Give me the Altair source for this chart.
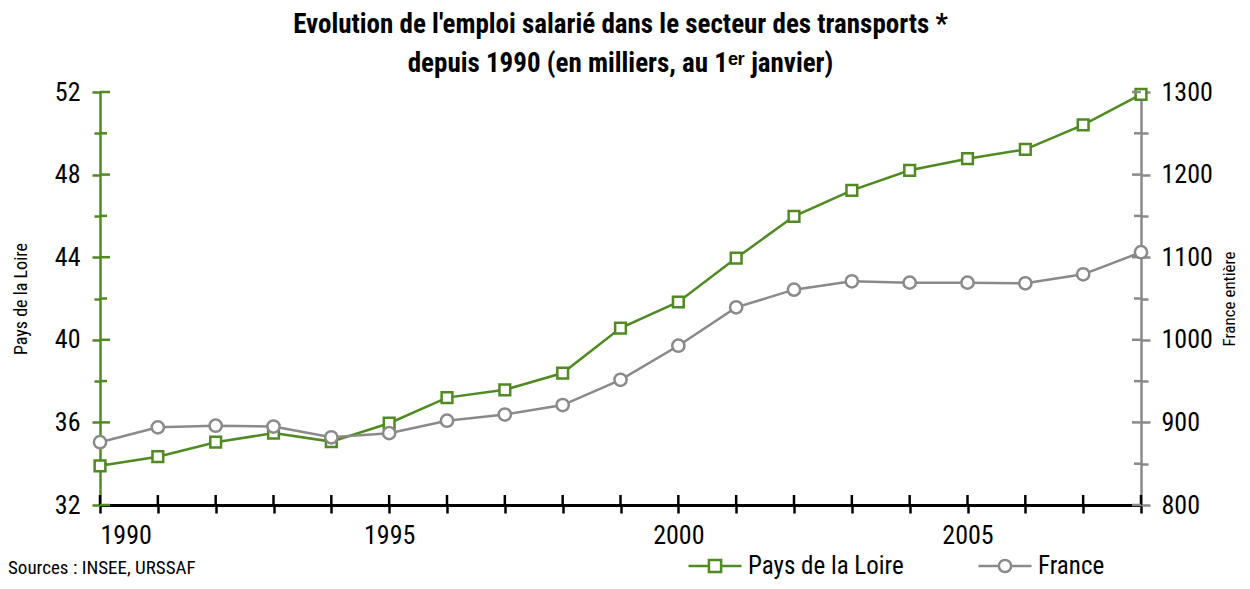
import altair as alt
import pandas as pd

years = list(range(1990, 2009))
pdl = [33.9, 34.34, 35.04, 35.48, 35.07, 35.96, 37.2, 37.58, 38.39, 40.57,
       41.83, 43.96, 45.98, 47.24, 48.21, 48.77, 49.22, 50.41, 51.88]
france = [876, 894, 896, 895, 882, 887, 902, 909.5, 921, 951.6,
          992.8, 1039.3, 1060.7, 1070.8, 1069.2, 1069.2, 1068.4, 1079.3, 1106]
series = ["Pays de la Loire", "France"]
pdl_ticks_major = [32, 36, 40, 44, 48, 52]
pdl_ticks_minor = [34, 38, 42, 46, 50]
fr_ticks_major = [800, 900, 1000, 1100, 1200, 1300]
fr_ticks_minor = [850, 950, 1050, 1150, 1250]

GREEN = "#4F8A22"
GRAY = "#8A8A8A"
BG = "#A9FFA9"
FONT = "Roboto Condensed, Liberation Sans Narrow, Roboto, sans-serif"

df = pd.DataFrame(
    [{"year": y, "serie": series[0], "value": v} for y, v in zip(years, pdl)]
    + [{"year": y, "serie": series[1], "value": v} for y, v in zip(years, france)]
)

W, H = 1041, 413

x_enc = alt.X(
    "year:Q",
    scale=alt.Scale(domain=[1990, 2008], nice=False, zero=False),
    axis=alt.Axis(
        title=None, values=years, format="d",
        labelExpr="datum.value % 5 == 0 ? datum.label : ''",
        grid=False, domainColor="black", domainWidth=3,
        tickColor="black", tickWidth=2.5, tickSize=8,
        labelFontSize=26, labelFont=FONT, labelPadding=9, labelColor="black",
    ),
)

pdl_y = alt.Y(
    "value:Q",
    scale=alt.Scale(domain=[32, 52], nice=False, zero=False),
    axis=alt.Axis(
        title="Pays de la Loire", titleFont=FONT, titleFontSize=18,
        titleFontWeight="normal", titlePadding=24, titleColor="black",
        values=pdl_ticks_major + pdl_ticks_minor, format="d",
        labelExpr="datum.value % 4 == 0 ? datum.label : ''",
        domainColor=GREEN, domainWidth=2.5,
        tickColor=GREEN, tickWidth=2.5,
        tickSize={"condition": {"test": "datum.value % 4 == 0", "value": 8}, "value": 6},
        grid=True, gridColor="white", gridWidth=2.5,
        gridOpacity={"condition": {"test": "datum.value % 4 == 0 && datum.value > 32 && datum.value < 52", "value": 1}, "value": 0},
        labelFontSize=26, labelFont=FONT, labelPadding=12, labelColor="black",
    ),
)

fr_y = alt.Y(
    "value:Q",
    scale=alt.Scale(domain=[800, 1300], nice=False, zero=False),
    axis=alt.Axis(
        orient="right",
        title="France entière", titleFont=FONT, titleFontSize=17,
        titleFontWeight="normal", titlePadding=9, titleColor="black",
        titleAngle=270, titleBaseline="top",
        values=fr_ticks_major + fr_ticks_minor, format="d",
        labelExpr="datum.value % 100 == 0 ? datum.label : ''",
        domainColor=GRAY, domainWidth=2.5,
        tickColor=GRAY, tickWidth=2.5,
        tickSize={"condition": {"test": "datum.value % 100 == 0", "value": 9}, "value": 7},
        grid=False,
        labelFontSize=26, labelFont=FONT, labelPadding=11, labelColor="black",
    ),
)

base = alt.Chart(df)

# inner halves of the axis ticks (ticks cross the axis lines in the reference)
pdl_inner_major = alt.Chart(pd.DataFrame({"value": pdl_ticks_major})).mark_rule(
    color=GREEN, strokeWidth=2.5).encode(y=pdl_y, x=alt.value(0), x2=alt.value(10))
pdl_inner_minor = alt.Chart(pd.DataFrame({"value": pdl_ticks_minor})).mark_rule(
    color=GREEN, strokeWidth=2.5).encode(y=pdl_y, x=alt.value(0), x2=alt.value(7))
fr_inner_major = alt.Chart(pd.DataFrame({"value": fr_ticks_major})).mark_rule(
    color=GRAY, strokeWidth=2.5).encode(y=fr_y, x=alt.value(W - 9), x2=alt.value(W))
fr_inner_minor = alt.Chart(pd.DataFrame({"value": fr_ticks_minor})).mark_rule(
    color=GRAY, strokeWidth=2.5).encode(y=fr_y, x=alt.value(W - 7), x2=alt.value(W))
x_inner = alt.Chart(pd.DataFrame({"year": years})).mark_rule(
    color="black", strokeWidth=2.5).encode(x=x_enc, y=alt.value(H - 10), y2=alt.value(H))

pdl_layer = alt.layer(
    pdl_inner_major,
    pdl_inner_minor,
    base.mark_line(color=GREEN, strokeWidth=2.5).encode(x=x_enc, y=pdl_y)
        .transform_filter(alt.datum.serie == series[0]),
    base.mark_point(shape="square", filled=True, fill="white", stroke=GREEN,
                    strokeWidth=2.5, size=115, opacity=1).encode(x=x_enc, y=pdl_y)
        .transform_filter(alt.datum.serie == series[0]),
)

fr_layer = alt.layer(
    fr_inner_major,
    fr_inner_minor,
    base.mark_line(color=GRAY, strokeWidth=2.5).encode(x=x_enc, y=fr_y)
        .transform_filter(alt.datum.serie == series[1]),
    base.mark_point(shape="circle", filled=True, fill="white", stroke=GRAY,
                    strokeWidth=2.5, size=150, opacity=1).encode(x=x_enc, y=fr_y)
        .transform_filter(alt.datum.serie == series[1]),
)

sq_path = "M-1,0H-0.23M0.23,0H1M-0.23,-0.23H0.23V0.23H-0.23Z"
ci_path = "M-1,0H-0.23M0.23,0H1M0.23,0A0.23,0.23 0 1,1 -0.23,0A0.23,0.23 0 1,1 0.23,0Z"

leg = dict(
    title=None, orient="none", direction="horizontal",
    legendX=587, legendY=446,
    labelFont=FONT, labelFontSize=25, labelColor="black",
    symbolSize=2809, symbolStrokeWidth=2.5, symbolFillColor="white",
    symbolOpacity=1,
    columnPadding=69, labelOffset=5,
)

legend_layer = base.mark_point(filled=True, fill="white", strokeWidth=2.5, size=2809,
                               opacity=1).encode(
    stroke=alt.Stroke("serie:N", scale=alt.Scale(domain=series, range=[GREEN, GRAY]),
                      legend=alt.Legend(**leg)),
    shape=alt.Shape("serie:N", scale=alt.Scale(domain=series, range=[sq_path, ci_path]),
                    legend=alt.Legend(**leg)),
).transform_filter("false")

source_layer = alt.Chart(pd.DataFrame({"t": ["Sources : INSEE, URSSAF"]})).mark_text(
    align="left", baseline="middle", font=FONT, fontSize=19, color="black"
).encode(text="t:N", x=alt.value(-92), y=alt.value(476))

chart = alt.layer(x_inner, pdl_layer, fr_layer, legend_layer, source_layer).resolve_scale(
    y="independent"
).properties(
    width=W, height=H,
    autosize=alt.AutoSizeParams(type="none"),
    padding={"left": 92, "top": 84, "right": 99, "bottom": 76},
    title=alt.TitleParams(
        text=["Evolution de l'emploi salarié dans le secteur des transports *",
              "depuis 1990 (en milliers, au 1ᵉʳ janvier)"],
        font=FONT, fontSize=27, fontWeight="bold", color="black",
        lineHeight=39, anchor="middle", offset=1,
    ),
).configure_view(fill=BG, stroke=None)

chart.save("out.html", embed_options={"renderer": "svg", "actions": False})
